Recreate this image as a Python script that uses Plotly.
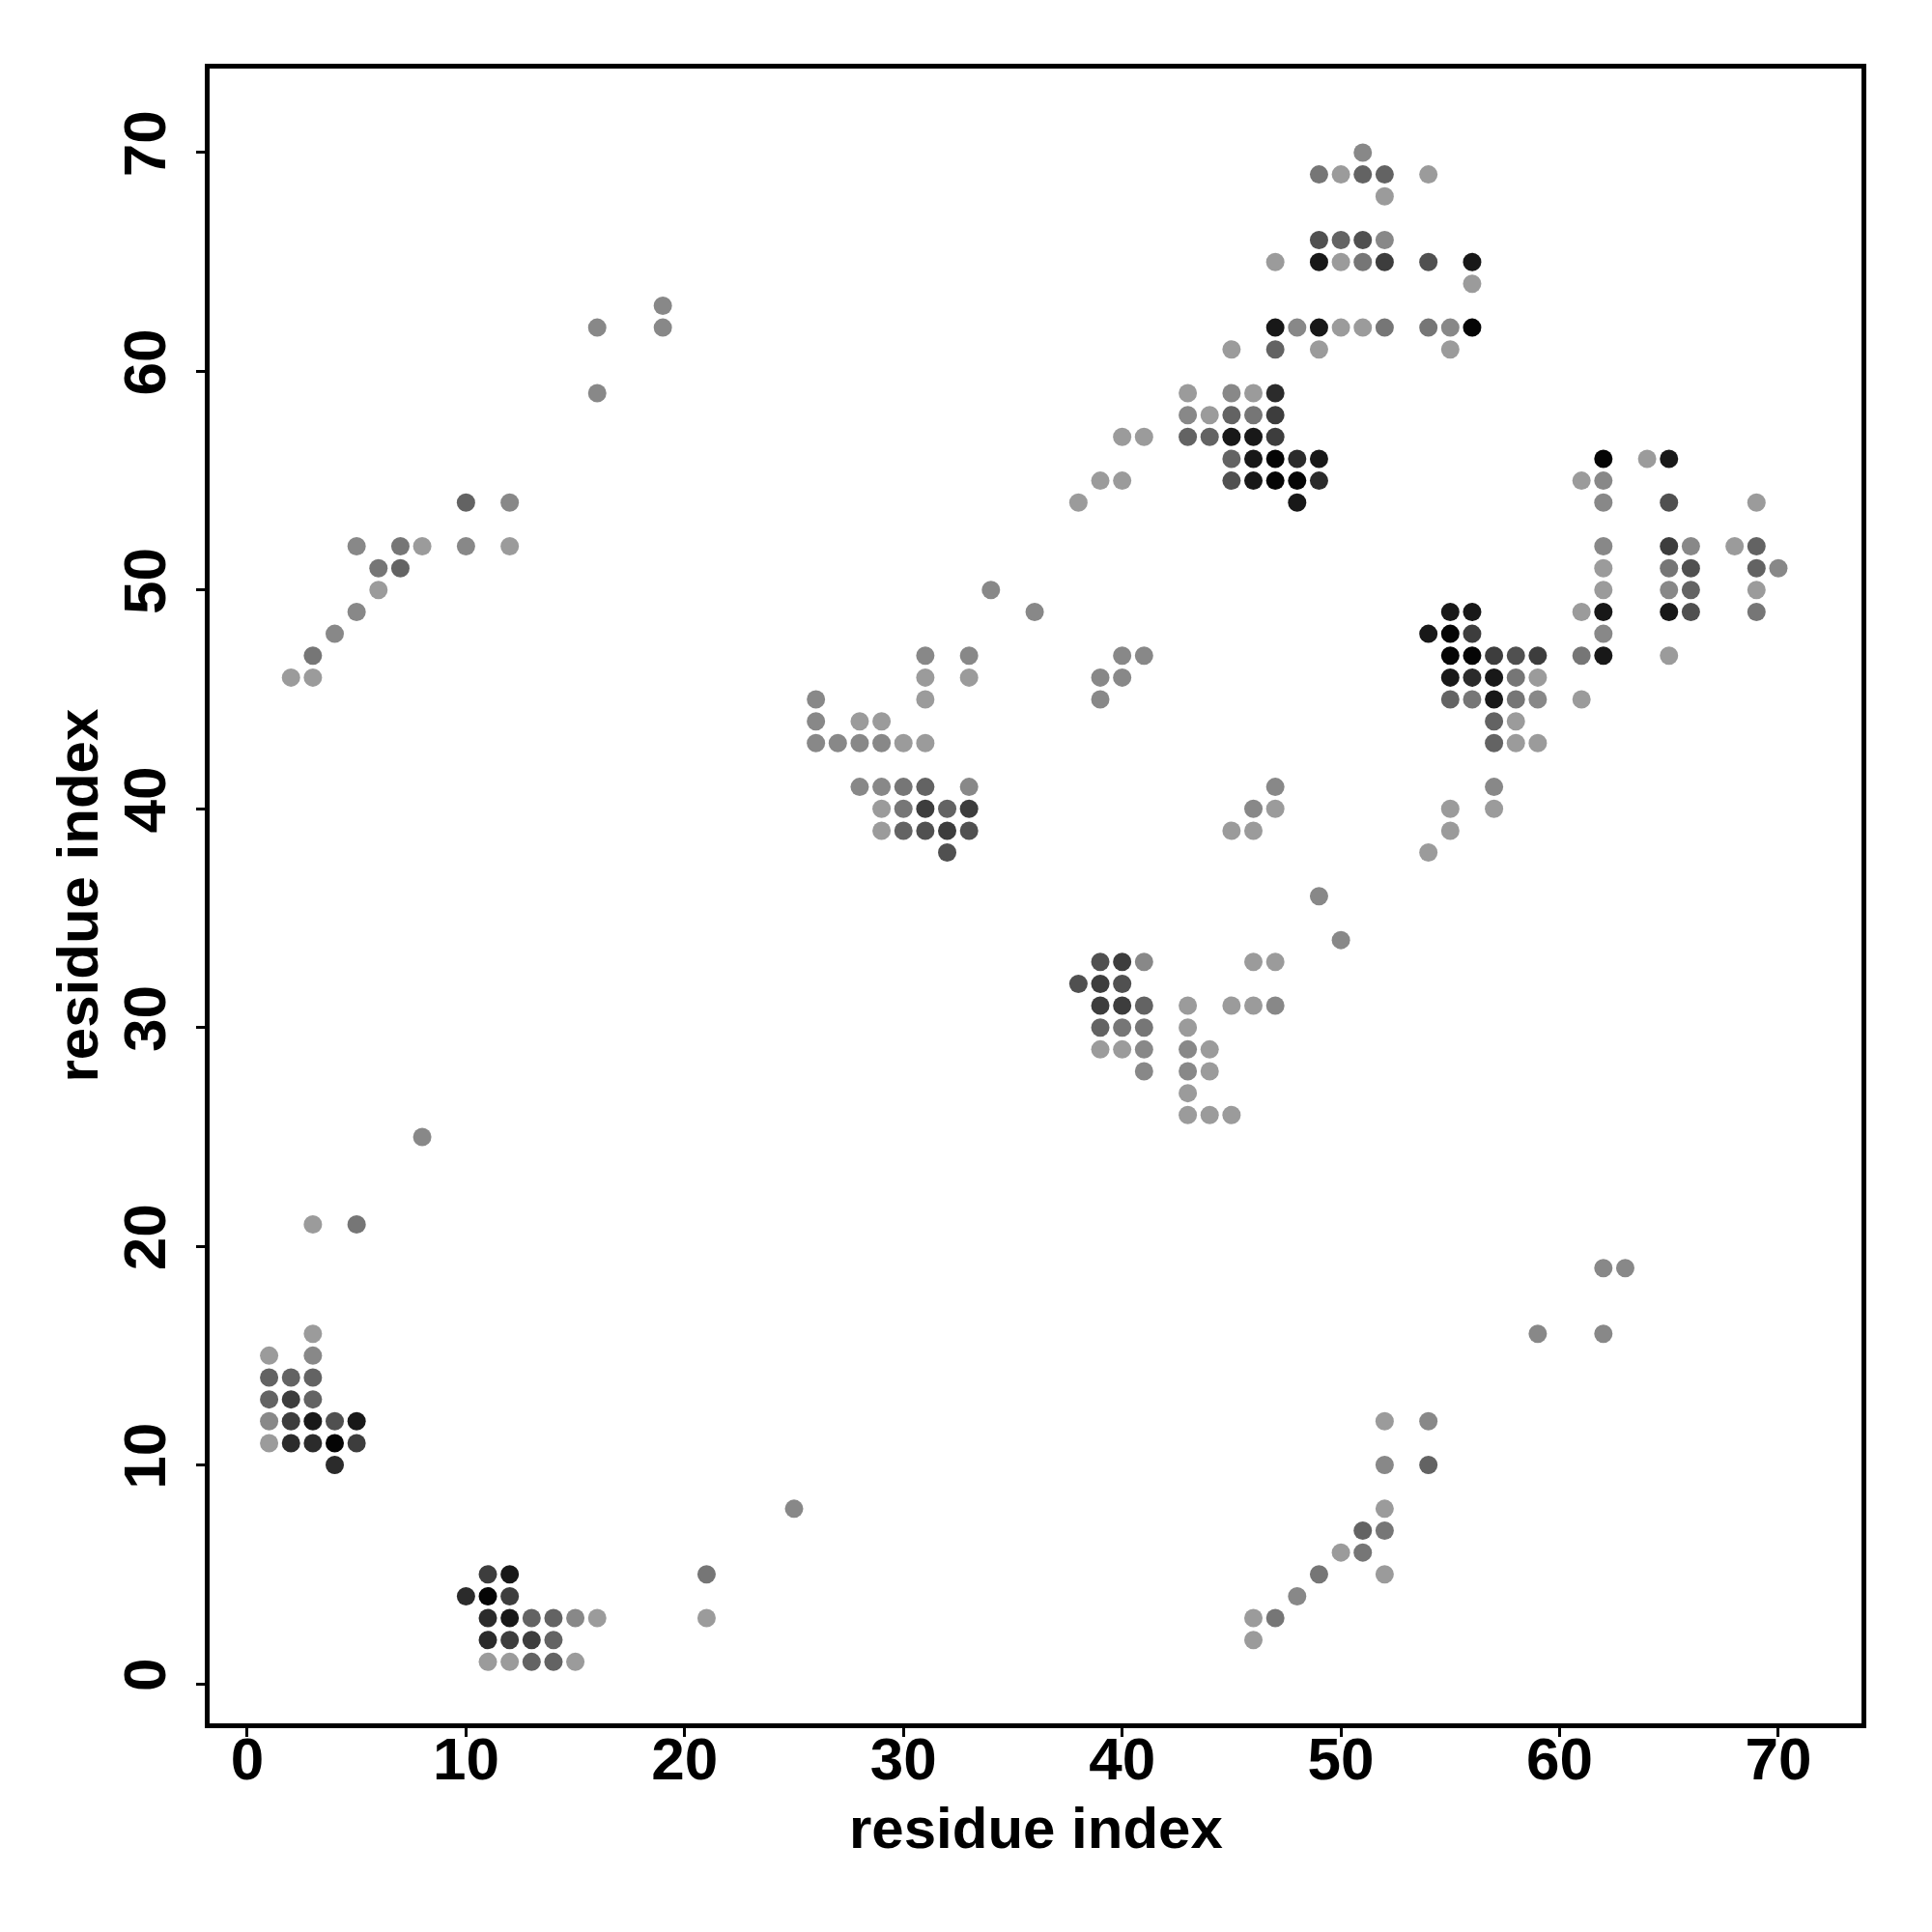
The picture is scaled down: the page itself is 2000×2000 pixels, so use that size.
import plotly.graph_objects as go

# Contact map: (residue i, residue j, contact level 1=weak/light ... 9=strong/black)
cluster_top_left = [
    (2, 46, 1), (3, 46, 1), (3, 47, 3), (4, 48, 2), (5, 49, 2), (5, 52, 2), (6, 50, 1),
    (6, 51, 3), (7, 51, 4), (7, 52, 3), (8, 52, 1), (10, 52, 2), (10, 54, 4), (12, 52, 1),
    (12, 54, 2), (16, 59, 2), (16, 62, 2), (19, 62, 2), (19, 63, 2),
]
cluster_middle = [
    (34, 50, 2), (36, 49, 2), (31, 47, 2), (33, 47, 2), (31, 46, 1), (33, 46, 1), (31, 45, 1),
    (26, 45, 2), (26, 44, 2), (28, 44, 1), (29, 44, 1),
    (26, 43, 2), (27, 43, 2), (28, 43, 2), (29, 43, 2), (30, 43, 1), (31, 43, 1),
    (28, 41, 2), (29, 41, 2), (30, 41, 3), (31, 41, 4), (33, 41, 2),
    (29, 40, 1), (30, 40, 3), (31, 40, 6), (32, 40, 4), (33, 40, 6),
    (29, 39, 1), (30, 39, 4), (31, 39, 5), (32, 39, 6), (33, 39, 5),
    (32, 38, 5),
]
cluster_upper = [
    (51, 70, 2),
    (49, 69, 3), (50, 69, 1), (51, 69, 4), (52, 69, 4), (54, 69, 1),
    (52, 68, 1),
    (49, 66, 5), (50, 66, 4), (51, 66, 5), (52, 66, 2),
    (47, 65, 1), (49, 65, 8), (50, 65, 1), (51, 65, 3), (52, 65, 6), (54, 65, 5), (56, 65, 8),
    (56, 64, 1),
    (47, 62, 8), (48, 62, 2), (49, 62, 8), (50, 62, 1), (51, 62, 1), (52, 62, 3), (54, 62, 3),
    (55, 62, 2), (56, 62, 9),
    (45, 61, 1), (47, 61, 4), (49, 61, 1), (55, 61, 1),
    (43, 59, 1), (45, 59, 2), (46, 59, 1), (47, 59, 7),
    (43, 58, 2), (44, 58, 1), (45, 58, 4), (46, 58, 3), (47, 58, 6),
    (40, 57, 1), (41, 57, 1), (43, 57, 4), (44, 57, 4), (45, 57, 8), (46, 57, 8), (47, 57, 6),
    (45, 56, 4), (46, 56, 8), (47, 56, 9), (48, 56, 7), (49, 56, 8),
    (39, 55, 1), (40, 55, 1), (45, 55, 5), (46, 55, 8), (47, 55, 9), (48, 55, 9), (49, 55, 7),
    (38, 54, 1), (48, 54, 8),
    (40, 47, 2), (41, 47, 2), (39, 46, 2), (40, 46, 2), (39, 45, 2),
]
cluster_right = [
    (62, 56, 9), (64, 56, 1), (65, 56, 8),
    (61, 55, 1), (62, 55, 2),
    (62, 54, 2), (65, 54, 5), (69, 54, 1),
    (62, 52, 2), (65, 52, 6), (66, 52, 2), (68, 52, 1), (69, 52, 4),
    (62, 51, 1), (65, 51, 3), (66, 51, 5), (69, 51, 4), (70, 51, 2),
    (62, 50, 1), (65, 50, 2), (66, 50, 4), (69, 50, 1),
    (55, 49, 8), (56, 49, 8), (61, 49, 1), (62, 49, 8), (65, 49, 8), (66, 49, 5), (69, 49, 3),
    (54, 48, 8), (55, 48, 9), (56, 48, 6), (62, 48, 2),
    (55, 47, 9), (56, 47, 9), (57, 47, 6), (58, 47, 5), (59, 47, 6), (61, 47, 3), (62, 47, 8),
    (65, 47, 1),
    (55, 46, 8), (56, 46, 7), (57, 46, 8), (58, 46, 3), (59, 46, 1),
    (55, 45, 4), (56, 45, 3), (57, 45, 8), (58, 45, 3), (59, 45, 2), (61, 45, 1),
    (57, 44, 4), (58, 44, 1),
    (57, 43, 4), (58, 43, 1), (59, 43, 1),
    (57, 41, 2), (57, 40, 1), (55, 40, 1), (55, 39, 1), (54, 38, 1),
]
cluster_center = [
    (47, 41, 2), (46, 40, 2), (47, 40, 1), (45, 39, 1), (46, 39, 1), (49, 36, 2), (50, 34, 2),
    (39, 33, 5), (40, 33, 6), (41, 33, 2), (46, 33, 1), (47, 33, 1),
    (38, 32, 5), (39, 32, 6), (40, 32, 5),
    (39, 31, 6), (40, 31, 6), (41, 31, 4), (43, 31, 1), (45, 31, 1), (46, 31, 1), (47, 31, 2),
    (39, 30, 4), (40, 30, 3), (41, 30, 3), (43, 30, 1),
    (39, 29, 1), (40, 29, 1), (41, 29, 2), (43, 29, 2), (44, 29, 1),
    (41, 28, 2), (43, 28, 2), (44, 28, 1),
    (43, 27, 1),
    (43, 26, 1), (44, 26, 1), (45, 26, 1),
]
cluster_bottom_left = [
    (8, 25, 2), (3, 21, 1), (5, 21, 3), (3, 16, 1),
    (1, 15, 1), (3, 15, 2),
    (1, 14, 4), (2, 14, 4), (3, 14, 4),
    (1, 13, 4), (2, 13, 6), (3, 13, 4),
    (1, 12, 2), (2, 12, 6), (3, 12, 8), (4, 12, 5), (5, 12, 8),
    (1, 11, 1), (2, 11, 7), (3, 11, 7), (4, 11, 9), (5, 11, 6),
    (4, 10, 7),
]
cluster_bottom = [
    (25, 8, 2), (21, 5, 3), (21, 3, 1),
    (11, 5, 6), (12, 5, 8),
    (10, 4, 7), (11, 4, 9), (12, 4, 6),
    (11, 3, 7), (12, 3, 8), (13, 3, 4), (14, 3, 4), (15, 3, 2), (16, 3, 1),
    (11, 2, 7), (12, 2, 6), (13, 2, 6), (14, 2, 4),
    (11, 1, 1), (12, 1, 1), (13, 1, 4), (14, 1, 4), (15, 1, 1),
]
cluster_bottom_right = [
    (62, 19, 2), (63, 19, 2), (59, 16, 2), (62, 16, 2),
    (52, 12, 1), (54, 12, 2), (52, 10, 2), (54, 10, 4), (52, 8, 1),
    (51, 7, 4), (52, 7, 3), (50, 6, 1), (51, 6, 3), (49, 5, 3), (52, 5, 1), (48, 4, 2),
    (46, 3, 1), (47, 3, 3), (46, 2, 1),
]

x_ticks = [0, 10, 20, 30, 40, 50, 60, 70]
y_ticks = [0, 10, 20, 30, 40, 50, 60, 70]
x_title = "residue index"
y_title = "residue index"

clusters = (cluster_top_left + cluster_middle + cluster_upper + cluster_right +
            cluster_center + cluster_bottom_left + cluster_bottom + cluster_bottom_right)
res_i = [c[0] for c in clusters]
res_j = [c[1] for c in clusters]
level = [c[2] for c in clusters]

FONT = "Liberation Sans, Arial, Helvetica, sans-serif"

fig = go.Figure(go.Scatter(
    x=res_i, y=res_j, mode="markers",
    marker=dict(size=19, color=level, cmin=1, cmax=9,
                colorscale=[[0, "rgb(155,155,155)"], [1, "rgb(5,5,5)"]],
                line=dict(width=0), showscale=False),
    hoverinfo="x+y",
))

axis_common = dict(
    showgrid=False, zeroline=False, showline=True, linewidth=5, linecolor="black",
    mirror=True, ticks="outside", ticklen=9, tickwidth=3, tickcolor="black",
    tickfont=dict(family=FONT, size=62, color="black", weight="bold"),
)

title_font = dict(family=FONT, size=60, color="black", weight="bold")

fig.update_layout(
    width=2000, height=2000,
    margin=dict(l=209, r=81, t=63, b=224),
    paper_bgcolor="white", plot_bgcolor="white",
    showlegend=False,
    xaxis=dict(range=[-1.72, 73.8], tickvals=x_ticks, ticklabelstandoff=-30,
               **axis_common),
    yaxis=dict(range=[-1.81, 73.84], tickvals=y_ticks, tickangle=-90,
               ticklabelstandoff=7, **axis_common),
    annotations=[
        dict(text=x_title, xref="paper", yref="paper", x=0.5, y=-0.0631,
             xanchor="center", yanchor="middle", showarrow=False, font=title_font),
        dict(text=y_title, xref="paper", yref="paper", x=-0.0801, y=0.5,
             xanchor="center", yanchor="middle", showarrow=False, textangle=-90,
             font=title_font),
    ],
)

fig.write_html("out.html")
